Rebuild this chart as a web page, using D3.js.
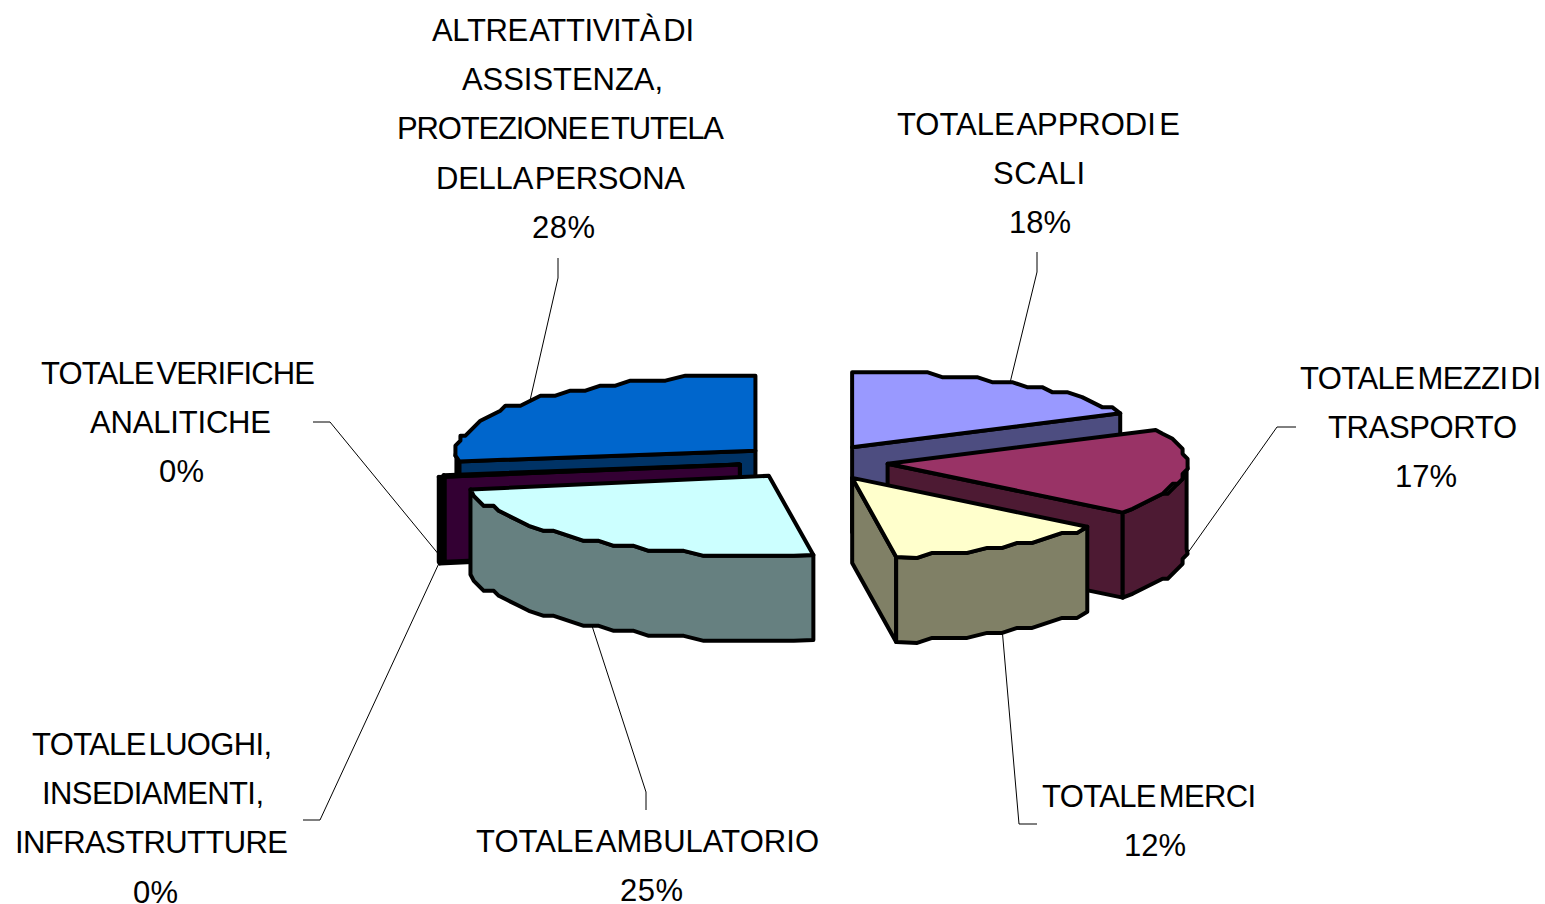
<!DOCTYPE html>
<html>
<head>
<meta charset="utf-8">
<script src="https://cdn.jsdelivr.net/npm/d3@7"></script>
<style>
  body { margin: 0; background: #fff; }
  text { font-family: "Liberation Sans", Arial, sans-serif; font-size: 31px; fill: #000; }
</style>
</head>
<body>
<svg></svg>
<script>
var categories = [
  ["TOTALE APPRODI E", "SCALI"],
  ["TOTALE MEZZI DI", "TRASPORTO"],
  ["TOTALE MERCI"],
  ["TOTALE AMBULATORIO"],
  ["TOTALE LUOGHI,", "INSEDIAMENTI,", "INFRASTRUTTURE"],
  ["TOTALE VERIFICHE", "ANALITICHE"],
  ["ALTRE ATTIVITÀ DI", "ASSISTENZA,", "PROTEZIONE E TUTELA", "DELLA PERSONA"]
];
// what the labels print
var percents = [18, 17, 12, 25, 0, 0, 28];
// unrounded slice sizes
var shares = [17.7, 17.9, 12.05, 24.55, 0.3, 0.3, 27.2];

var topColors = ["#9999ff", "#993366", "#ffffcc", "#ccffff", "#000000", "#330033", "#0066cc"];
var wallColors = ["#4d4d80", "#4d1a33", "#808066", "#668080", "#000000", "#330033", "#003366"];

// label layout: left edge, width of every line, first baseline
var labelX = [[897, 993, 1009], [1300, 1328, 1395], [1042, 1124], [476, 620],
              [32, 42, 15, 133], [41, 90, 159], [432, 462, 397, 436, 532]];
var labelW = [[283, 92, 62], [241, 189, 62], [214, 62], [343, 63],
              [240, 222, 273, 45], [274, 181, 45], [262, 201, 327, 249, 63]];
var labelY = [135, 389, 807, 852, 755, 384, 41];
var lineGap = 49.2;
// leader lines: label end, elbow
var leaderFrom = [[1037, 252], [1296, 427], [1037, 824], [646, 810], [303, 820], [313, 422], [558, 258]];
var leaderElbow = [[1037, 272], [1277, 427], [1019, 824], [646, 792], [320, 820], [330, 422], [558, 278]];

var width = 1545, height = 904;
var cx = 812, cy = 462;
var radius = [299, 299, 299, 303, 305, 299, 299], depth = 85;
var explode = [76, 76, 80, 74, 73, 73, 75];
var tilt = 0.23;

var rad = Math.PI / 180;

var svg = d3.select("svg").attr("width", width).attr("height", height);

var arcs = d3.pie().sort(null)(shares);

// slightly wider ellipse towards the viewer
var ryScale = d3.scaleLinear().domain([1, -1]).range([75, 80]);

var slices = arcs.map(function (a, i) {
  var mid = (a.startAngle + a.endAngle) / 2;
  return {
    i: i,
    start: a.startAngle,
    end: a.endAngle,
    mid: mid,
    rx: radius[i],
    x: cx + explode[i] * Math.sin(mid),
    y: cy - explode[i] * tilt * Math.cos(mid)
  };
});

function edge(s, t) {
  var c = Math.cos(t);
  return [s.x + s.rx * Math.sin(t), s.y - ryScale(c) * c];
}

// the original arcs are coarse polylines, so snap them to a rough grid
function arcPoints(s, from, to) {
  var pts = [edge(s, from)];
  var n = Math.max(1, Math.round((to - from) / (3.5 * rad)));
  for (var k = 1; k < n; k++) {
    var p = edge(s, from + (to - from) * k / n);
    pts.push([Math.round((p[0] - s.x) / 5) * 5 + s.x, Math.round((p[1] - s.y) / 5) * 5 + s.y]);
  }
  pts.push(edge(s, to));
  return pts;
}

var line = d3.line();

function drop(pts) {
  return pts.map(function (p) { return [p[0], p[1] + depth]; }).reverse();
}

function drawPoly(pts, fill) {
  svg.append("path")
    .attr("d", line(pts) + "Z")
    .attr("fill", fill)
    .attr("stroke", "#000")
    .attr("stroke-width", 4)
    .attr("stroke-linejoin", "round");
}

function drawSlice(s) {
  var wall = wallColors[s.i];
  var apex = [s.x, s.y];
  // radial walls facing the viewer
  if (Math.sin(s.start) < 0) {
    var a = [apex, edge(s, s.start)];
    drawPoly(a.concat(drop(a)), wall);
  }
  if (Math.sin(s.end) > 0) {
    var b = [apex, edge(s, s.end)];
    drawPoly(b.concat(drop(b)), wall);
  }
  // outer wall, front half only
  var from = Math.max(s.start, 90 * rad), to = Math.min(s.end, 270 * rad);
  if (to > from) {
    var o = arcPoints(s, from, to);
    drawPoly(o.concat(drop(o)), wall);
  }
  drawPoly([apex].concat(arcPoints(s, s.start, s.end)), topColors[s.i]);
}

// back to front
[0, 6, 4, 5, 1, 3, 2].forEach(function (i) { drawSlice(slices[i]); });

categories.forEach(function (c, i) {
  // leaders end on the slice edge, at its middle
  var s = slices[i];
  var p = edge(s, s.mid);
  var front = Math.cos(s.mid) < 0;
  var end = [p[0], p[1] + (front ? depth : 0)];
  svg.append("path")
    .attr("d", line([leaderFrom[i], leaderElbow[i], end]))
    .attr("fill", "none")
    .attr("stroke", "#000")
    .attr("stroke-width", 1);

  c.concat([percents[i] + "%"]).forEach(function (txt, j) {
    svg.append("text")
      .attr("x", labelX[i][j])
      .attr("y", labelY[i] + j * lineGap)
      .attr("textLength", labelW[i][j])
      .attr("lengthAdjust", "spacing")
      .attr("word-spacing", "-5")
      .text(txt);
  });
});
</script>
</body>
</html>
